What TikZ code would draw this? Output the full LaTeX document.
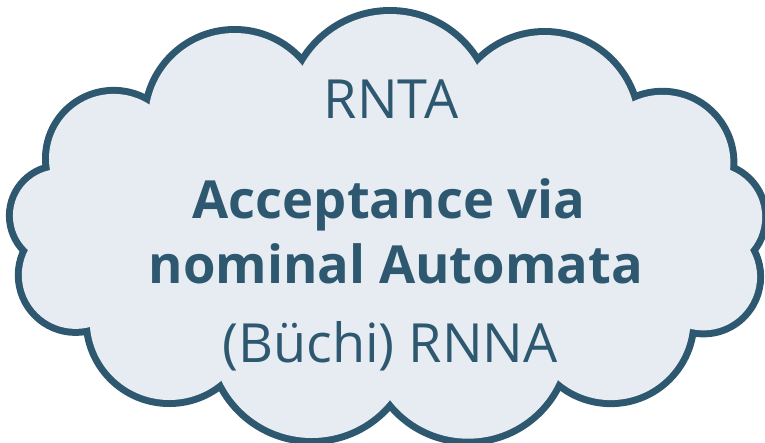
\documentclass[tikz,border=0pt]{standalone}
\usepackage{fontspec}
\setmainfont{Open Sans}
\definecolor{cloudline}{HTML}{2E5870}
\definecolor{cloudfill}{HTML}{E6ECF1}
\begin{document}
\begin{tikzpicture}[x=1pt,y=-1pt,
  puffline/.style={draw=cloudline,line width=14pt},
  pufffill/.style={fill=cloudfill},
  label/.style={text=cloudline,anchor=base,inner sep=0pt,font=\fontsize{54}{60}\selectfont},
  boldlabel/.style={label,font=\fontsize{52.5}{60}\selectfont\bfseries}]
\useasboundingbox (0,0) rectangle (765,442);
% puffs of the cloud: centre x / centre y / radius
\def\puffs{59.5/215.7/46.6, 113.7/158.6/64.7, 234.6/119.5/86.5,
  390/113.7/99.7, 544.7/126.3/91.3, 662.4/162.8/68, 711.6/217.1/50.6,
  703.4/276.7/53.7, 610.8/320.5/79.6, 468.1/340.6/98.1,
  311.7/338.3/99.7, 169.3/320.4/79.6, 75.6/275.1/53.8}
% outline: thick strokes, whose inner halves are covered below
\foreach \cx/\cy/\r in \puffs
  \draw[puffline] (\cx,\cy) circle[radius=\r pt];
% body of the cloud
\fill[pufffill] (59.5,215.7) -- (113.7,158.6) -- (234.6,119.5) -- (390,113.7)
  -- (544.7,126.3) -- (662.4,162.8) -- (711.6,217.1) -- (703.4,276.7)
  -- (610.8,320.5) -- (468.1,340.6) -- (311.7,338.3) -- (169.3,320.4)
  -- (75.6,275.1) -- cycle;
\foreach \cx/\cy/\r in \puffs
  \fill[pufffill] (\cx,\cy) circle[radius=\r pt];
% texts
\node[label] (rnta) at (391,118) {RNTA};
\node[boldlabel] (accept) at (389,218) {Acceptance via};
\node[boldlabel] (nominal) at (396,283) {nominal Automata};
\node[label] (rnna) at (390,362) {(Büchi) RNNA};
\end{tikzpicture}
\end{document}
